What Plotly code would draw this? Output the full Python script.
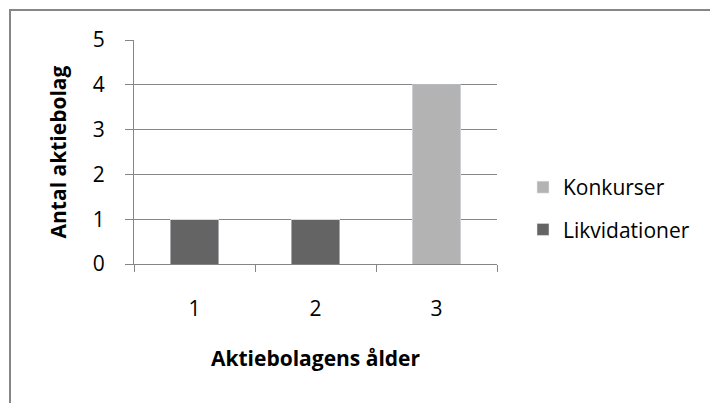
import plotly.graph_objects as go

categories = ["1", "2", "3"]
likvidationer = [1, 1, 0]
konkurser = [0, 0, 4]
y_ticks = [0, 1, 2, 3, 4, 5]

OFF = 8  # page body margin
W, H = 718 - OFF, 403 - OFF
L, R, T, B = 134 - OFF, 497 - OFF, 40 - OFF, 264 - OFF  # plot area in figure pixels

def px(x):
    return (x - OFF - L) / (R - L)

def py(y):
    return (B - (y - OFF)) / (B - T)

FONT = "Open Sans"
FS = 21
GRID = "#868686"

fig = go.Figure()
fig.add_trace(go.Bar(x=categories, y=likvidationer, name="Likvidationer",
                     marker_color="#646464", width=0.4,
                     legendgroup="likv", legendrank=2))
fig.add_trace(go.Bar(x=categories, y=konkurser, name="Konkurser",
                     marker_color="#b3b3b3", width=0.4,
                     legendgroup="konk", legendrank=1))

fig.update_layout(
    width=W, height=H,
    barmode="stack",
    paper_bgcolor="white", plot_bgcolor="white",
    margin=dict(l=L, r=W - R, t=T, b=H - B, autoexpand=False),
    font=dict(family=FONT, size=FS, color="black"),
    legend=dict(x=px(523), y=py(167), xanchor="left", yanchor="top",
                traceorder="grouped", tracegroupgap=12,
                font=dict(size=FS), bgcolor="rgba(0,0,0,0)"),
    xaxis=dict(type="category", showline=True, linecolor=GRID, linewidth=1,
               ticks="outside", tickson="boundaries", ticklen=7, tickcolor=GRID,
               ticklabelstandoff=26, showgrid=False,
               title=dict(text="<b>Aktiebolagens ålder</b>", standoff=30,
                          font=dict(size=FS))),
    yaxis=dict(range=[0, 5], tickvals=y_ticks, showline=True, linecolor=GRID,
               linewidth=1, ticks="outside", ticklen=8, tickcolor=GRID,
               showgrid=True, gridcolor=GRID, gridwidth=1, zeroline=False,
               ticklabelstandoff=16,
               title=dict(text="<b>Antal aktiebolag</b>", standoff=20,
                          font=dict(size=FS))),
    shapes=[dict(type="rect", xref="paper", yref="paper",
                 x0=px(10), x1=px(716), y0=py(410), y1=py(10),
                 line=dict(color=GRID, width=2), fillcolor="rgba(0,0,0,0)",
                 layer="below")],
)

fig.write_html("out.html")
